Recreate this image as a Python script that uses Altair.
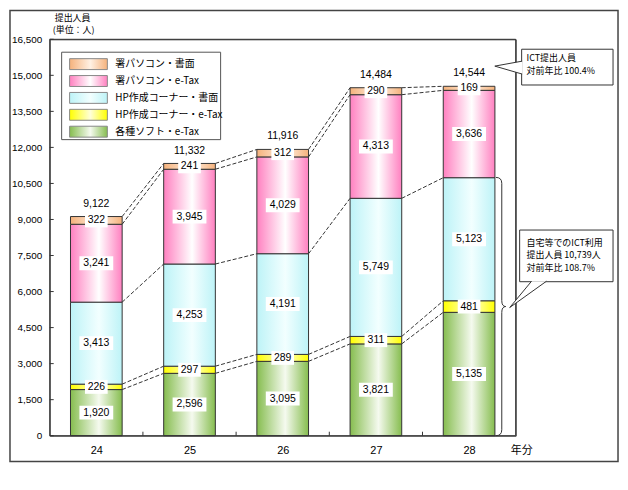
import altair as alt
import pandas as pd

years = [24, 25, 26, 27, 28]
series = ["各種ソフト・e-Tax", "HP作成コーナー・e-Tax", "HP作成コーナー・書面", "署パソコン・e-Tax", "署パソコン・書面"]
soft_etax = [1920, 2596, 3095, 3821, 5135]
hp_etax = [226, 297, 289, 311, 481]
hp_paper = [3413, 4253, 4191, 5749, 5123]
pc_etax = [3241, 3945, 4029, 4313, 3636]
pc_paper = [322, 241, 312, 290, 169]
y_ticks = [0, 1500, 3000, 4500, 6000, 7500, 9000, 10500, 12000, 13500, 15000, 16500]
y_title = ["提出人員", "(単位：人)"]
x_unit = "年分"
callout1 = ["ICT提出人員", "対前年比   100.4%"]
callout2 = ["自宅等でのICT利用", "提出人員  10,739人", "対前年比   108.7%"]
edge_colors = ["#86bd4f", "#ffff00", "#bdf3f7", "#ff80c0", "#f5b27c"]
mid_colors = ["#f5faef", "#ffffd9", "#f2ffff", "#ffffff", "#fff1e4"]

values = [soft_etax, hp_etax, hp_paper, pc_etax, pc_paper]
W, H = 469, 399
HW = 0.2772
FONT = "Noto Sans CJK JP"
NUMFONT = "Liberation Sans"

rows = []
for i, yr in enumerate(years):
    cum = 0
    for k, s in enumerate(series):
        v = values[k][i]
        rows.append(dict(year=yr, series=s, value=v, start=cum, end=cum + v))
        cum += v
df = pd.DataFrame(rows)
df["mid"] = (df["start"] + df["end"]) / 2

totals = pd.DataFrame({"year": years,
                       "total": [sum(values[k][i] for k in range(5)) for i in range(5)]})

conn = []
for k in range(5):
    tops = [sum(values[j][i] for j in range(k + 1)) for i in range(5)]
    for i in range(4):
        conn.append(dict(xa=years[i] + HW, xb=years[i + 1] - HW, ya=tops[i], yb=tops[i + 1]))
conn = pd.DataFrame(conn)

xs = alt.Scale(domain=[years[0] - 0.5, years[-1] + 0.5], nice=False, zero=False)
ys = alt.Scale(domain=[y_ticks[0], y_ticks[-1]], nice=False)


def grad(k):
    return alt.LinearGradient(
        gradient="linear", x1=0, x2=1, y1=0, y2=0,
        stops=[alt.GradientStop(offset=0, color=edge_colors[k]),
               alt.GradientStop(offset=0.55, color=mid_colors[k]),
               alt.GradientStop(offset=1, color=edge_colors[k])])


def one():
    return alt.Data(values=[{"a": 1}])


x_axis = alt.Axis(values=years, labelExpr="format(datum.value, 'd')", ticks=False, domain=False, grid=False,
                  labelPadding=9, labelFontSize=11, labelFont=NUMFONT, labelColor="black", title=None)
y_axis = alt.Axis(values=y_ticks, labelExpr="format(datum.value, ',')", ticks=False, domain=False, grid=False,
                  labelPadding=8, labelFontSize=10, labelFont=NUMFONT, labelColor="black", title=None)


def X(f):
    return alt.X(f, scale=xs, axis=x_axis)


def Y(f):
    return alt.Y(f, scale=ys, axis=y_axis)


layers = []
# outer frame
layers.append(alt.Chart(one()).mark_rect(fill="white", fillOpacity=0, stroke="#444", strokeWidth=1.5).encode(
    x=alt.value(-40), x2=alt.value(572), y=alt.value(-29), y2=alt.value(425)))

base = alt.Chart(df)
for k, s in enumerate(series):
    layers.append(
        base.transform_filter(alt.datum.series == s)
        .transform_calculate(x0=f"datum.year - {HW}", x1=f"datum.year + {HW}")
        .mark_bar(fill=grad(k), stroke="#333", strokeWidth=1)
        .encode(x=X("x0:Q"), x2="x1:Q", y=Y("start:Q"), y2="end:Q"))

# dashed connectors
layers.append(alt.Chart(conn).mark_rule(color="#333", strokeDash=[4, 2], strokeWidth=1).encode(
    x=X("xa:Q"), x2="xb:Q", y=Y("ya:Q"), y2="yb:Q"))

# inward ticks
layers.append(alt.Chart(pd.DataFrame({"t": y_ticks})).mark_rule(color="#333").encode(
    y=Y("t:Q"), x=alt.value(0), x2=alt.value(4)))
layers.append(alt.Chart(pd.DataFrame({"b": [y + 0.5 for y in years[:-1]]})).mark_rule(color="#333").encode(
    x=X("b:Q"), y=alt.value(H), y2=alt.value(H - 4)))

# label boxes + labels
lab = base.transform_calculate(label="format(datum.value, ',')") \
    .transform_calculate(w="length(datum.label) * 5.6 + 6") \
    .transform_calculate(shp="'M' + (-datum.w/2) + ',-7H' + (datum.w/2) + 'V7H' + (-datum.w/2) + 'Z'")
layers.append(lab.mark_point(size=4, filled=True, fill="white", strokeWidth=0, opacity=1).encode(
    x=X("year:Q"), y=Y("mid:Q"),
    shape=alt.Shape("shp:N", scale=None, legend=None)))
layers.append(lab.mark_text(font=NUMFONT, fontSize=10.5, color="black").encode(
    x=X("year:Q"), y=Y("mid:Q"), text="label:N"))

# totals
layers.append(alt.Chart(totals).transform_calculate(tl="format(datum.total, ',')")
              .mark_text(font=NUMFONT, fontSize=10.5, color="black", dy=-13).encode(
    x=X("year:Q"), y=Y("total:Q"), text="tl:N"))

# plot border
layers.append(alt.Chart(one()).mark_rect(fill="white", fillOpacity=0, stroke="#333", strokeWidth=1).encode(
    x=alt.value(0), x2=alt.value(W), y=alt.value(0), y2=alt.value(H)))

# y title and x unit
for i, t in enumerate(y_title):
    layers.append(alt.Chart(one()).mark_text(font=FONT, fontSize=9, align="left", baseline="middle", color="black").encode(
        x=alt.value(5 - 2 * i), y=alt.value(-21 + 12 * i), text=alt.value(t)))
layers.append(alt.Chart(one()).mark_text(font=FONT, fontSize=11, align="center", baseline="middle", color="black").encode(
    x=alt.value(475), y=alt.value(414), text=alt.value(x_unit)))

# legend
layers.append(alt.Chart(one()).mark_rect(fill="white", stroke="#555", strokeWidth=1).encode(
    x=alt.value(12), x2=alt.value(172), y=alt.value(13), y2=alt.value(101)))
for i in range(5):
    k = 4 - i
    cy = 25 + 17 * i
    layers.append(alt.Chart(one()).mark_rect(fill=grad(k), stroke="#888", strokeWidth=1).encode(
        x=alt.value(20), x2=alt.value(58), y=alt.value(cy - 5.5), y2=alt.value(cy + 5.5)))
    layers.append(alt.Chart(one()).mark_text(font=FONT, fontSize=10, align="left", baseline="middle", color="black").encode(
        x=alt.value(66), y=alt.value(cy), text=alt.value(series[k])))

# brace
brace = "M-10,-130Q-4,-130,-4,-124L-4,-6Q-4,0,0,0Q-4,0,-4,6L-4,124Q-4,130,-10,130"
layers.append(alt.Chart(one()).mark_point(shape=brace, size=4, filled=False, stroke="#333", strokeWidth=1, opacity=1).encode(
    x=alt.value(459), y=alt.value(269)))

# callout 1
layers.append(alt.Chart(one()).mark_rect(fill="white", stroke="#333", strokeWidth=1).encode(
    x=alt.value(475), x2=alt.value(567), y=alt.value(10), y2=alt.value(46)))
layers.append(alt.Chart(one()).mark_point(shape="M27.5,-5L0,0L27.5,8", size=4, filled=True, fill="white",
                                          stroke="#333", strokeWidth=1, opacity=1).encode(
    x=alt.value(448), y=alt.value(27)))
for i, t in enumerate(callout1):
    layers.append(alt.Chart(one()).mark_text(font=FONT, fontSize=9, align="left", baseline="middle", color="black").encode(
        x=alt.value(480), y=alt.value(19 + 13 * i), text=alt.value(t)))

# callout 2
layers.append(alt.Chart(one()).mark_rect(fill="white", stroke="#333", strokeWidth=1).encode(
    x=alt.value(473), x2=alt.value(567), y=alt.value(192), y2=alt.value(244)))
layers.append(alt.Chart(one()).mark_point(shape="M22,-26.5L0,0L37,-26.5", size=4, filled=True, fill="white",
                                          stroke="#333", strokeWidth=1, opacity=1).encode(
    x=alt.value(463), y=alt.value(270)))
for i, t in enumerate(callout2):
    layers.append(alt.Chart(one()).mark_text(font=FONT, fontSize=9, align="left", baseline="middle", color="black").encode(
        x=alt.value(480), y=alt.value(205 + 12.5 * i), text=alt.value(t)))

chart = alt.layer(*layers).properties(
    width=W, height=H,
    padding={"left": 42, "top": 30, "right": 105, "bottom": 28},
    autosize=alt.AutoSizeParams(type="none"),
    background="white",
).configure_view(stroke="#333", strokeWidth=1)

chart.save("out.html", embed_options={"renderer": "svg", "actions": False})
